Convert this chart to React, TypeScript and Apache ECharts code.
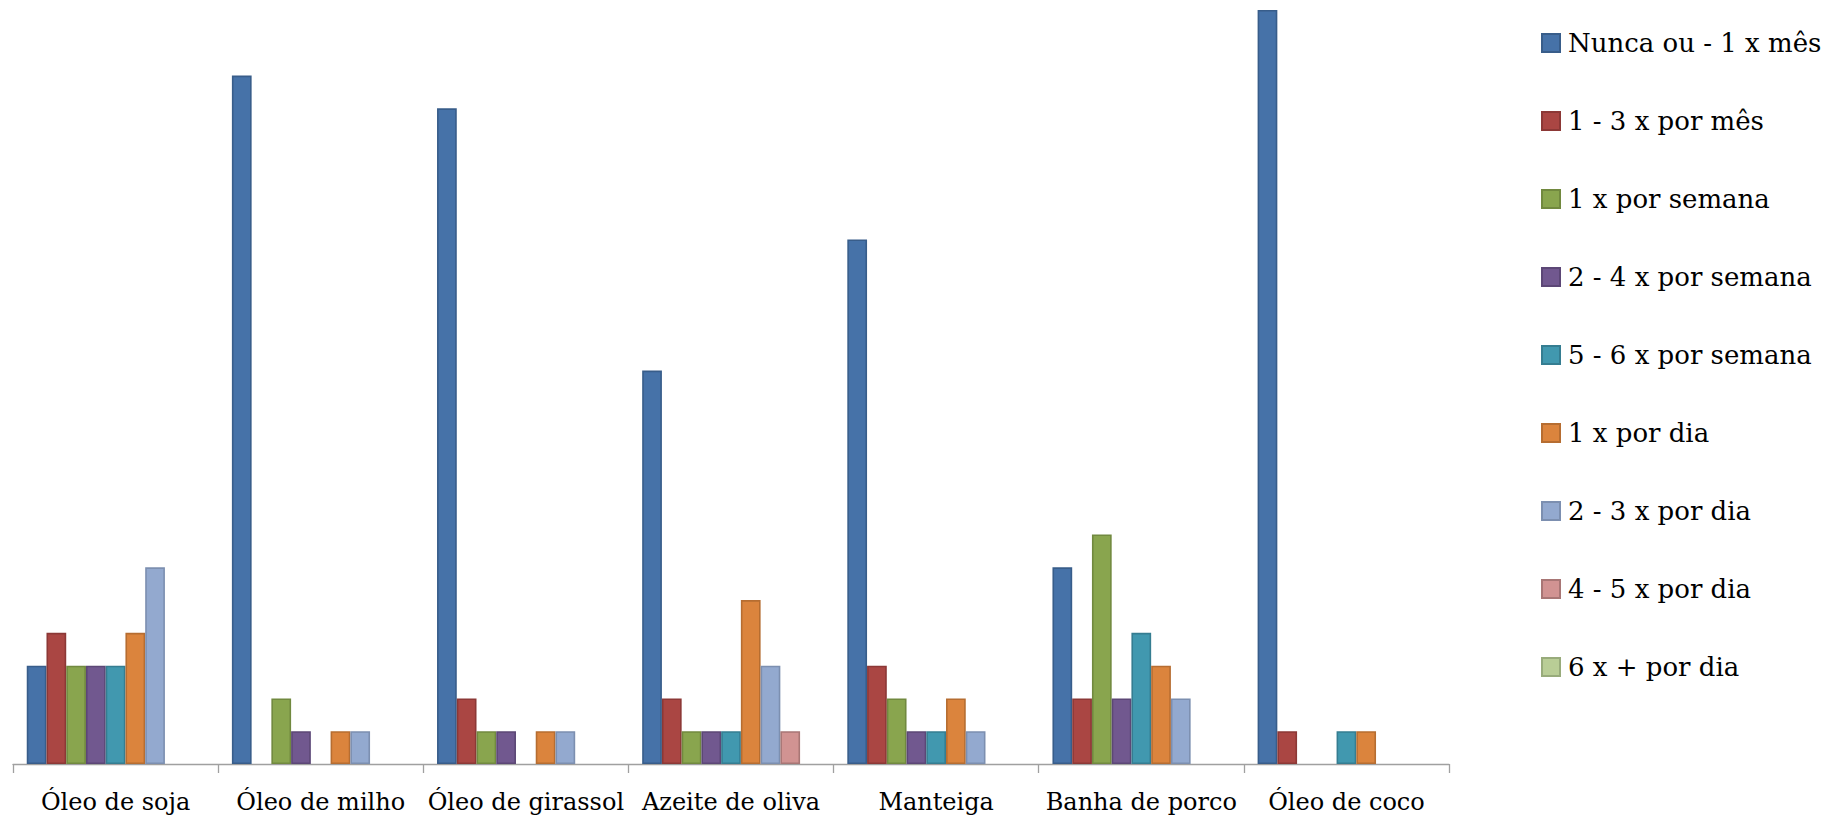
import React, { useEffect, useRef } from "react";
import * as echarts from "echarts";

// Fats and oils, number of respondents per consumption frequency
const categories = [
  "Óleo de soja",
  "Óleo de milho",
  "Óleo de girassol",
  "Azeite de oliva",
  "Manteiga",
  "Banha de porco",
  "Óleo de coco",
];

const frequencyNames = [
  "Nunca ou - 1 x mês",
  "1 - 3 x por mês",
  "1 x por semana",
  "2 - 4 x por semana",
  "5 - 6 x por semana",
  "1 x por dia",
  "2 - 3 x por dia",
  "4 - 5 x por dia",
  "6 x + por dia",
];

const nuncaOuMenosUmMes = [3, 21, 20, 12, 16, 6, 23];
const umATresPorMes = [4, 0, 2, 2, 3, 2, 1];
const umPorSemana = [3, 2, 1, 1, 2, 7, 0];
const doisAQuatroPorSemana = [3, 1, 1, 1, 1, 2, 0];
const cincoASeisPorSemana = [3, 0, 0, 1, 1, 4, 1];
const umPorDia = [4, 1, 1, 5, 2, 3, 1];
const doisATresPorDia = [6, 1, 1, 3, 1, 2, 0];
const quatroACincoPorDia = [0, 0, 0, 1, 0, 0, 0];
const seisOuMaisPorDia = [0, 0, 0, 0, 0, 0, 0];

const seriesValues = [
  nuncaOuMenosUmMes,
  umATresPorMes,
  umPorSemana,
  doisAQuatroPorSemana,
  cincoASeisPorSemana,
  umPorDia,
  doisATresPorDia,
  quatroACincoPorDia,
  seisOuMaisPorDia,
];

const fillColors = [
  "#4672A8",
  "#AA4643",
  "#89A54E",
  "#71588F",
  "#4198AF",
  "#DB843D",
  "#93A9CF",
  "#D19392",
  "#B9CD96",
];

const borderColors = [
  "#385D8A",
  "#8C3836",
  "#71893F",
  "#5C4776",
  "#357D91",
  "#B66D31",
  "#7C8FB0",
  "#A87675",
  "#98AB7B",
];

const FONT = "'DejaVu Serif', serif";

export default function App() {
  const ref = useRef<HTMLDivElement>(null);

  useEffect(() => {
    if (!ref.current) return;
    const chart = echarts.init(ref.current, undefined, { renderer: "svg" });

    const series = frequencyNames.map((name, i) => ({
      name,
      type: "bar" as const,
      barGap: "0%",
      barCategoryGap: "13.4%",
      // a zero count draws no bar
      data: seriesValues[i].map((v) => (v === 0 ? null : v)),
      itemStyle: {
        color: fillColors[i],
        borderColor: borderColors[i],
        borderWidth: 1.6,
      },
    }));

    chart.setOption({
      animation: false,
      backgroundColor: "#ffffff",
      grid: { left: 13, right: 394, top: 10, bottom: 57, containLabel: false },
      xAxis: {
        type: "category",
        data: categories,
        axisLine: { lineStyle: { color: "#A0A0A0", width: 1.3 } },
        axisTick: { show: true, length: 9, lineStyle: { color: "#A0A0A0", width: 1.3 } },
        axisLabel: {
          color: "#000000",
          fontFamily: FONT,
          fontSize: 24,
          margin: 26,
          interval: 0,
        },
      },
      yAxis: {
        type: "value",
        min: 0,
        max: 23,
        show: false,
        splitLine: { show: false },
      },
      legend: {
        orient: "vertical",
        left: 1541,
        top: 30,
        padding: 0,
        itemWidth: 18,
        itemHeight: 18,
        itemGap: 52,
        icon: "rect",
        textStyle: {
          color: "#000000",
          fontFamily: FONT,
          fontSize: 26,
          lineHeight: 26,
          padding: [0, 0, 0, 3],
        },
        data: frequencyNames,
      },
      series,
    });

    return () => chart.dispose();
  }, []);

  return (
    <div
      ref={ref}
      style={{ position: "fixed", left: 0, top: 0, width: 1843, height: 821 }}
    />
  );
}
